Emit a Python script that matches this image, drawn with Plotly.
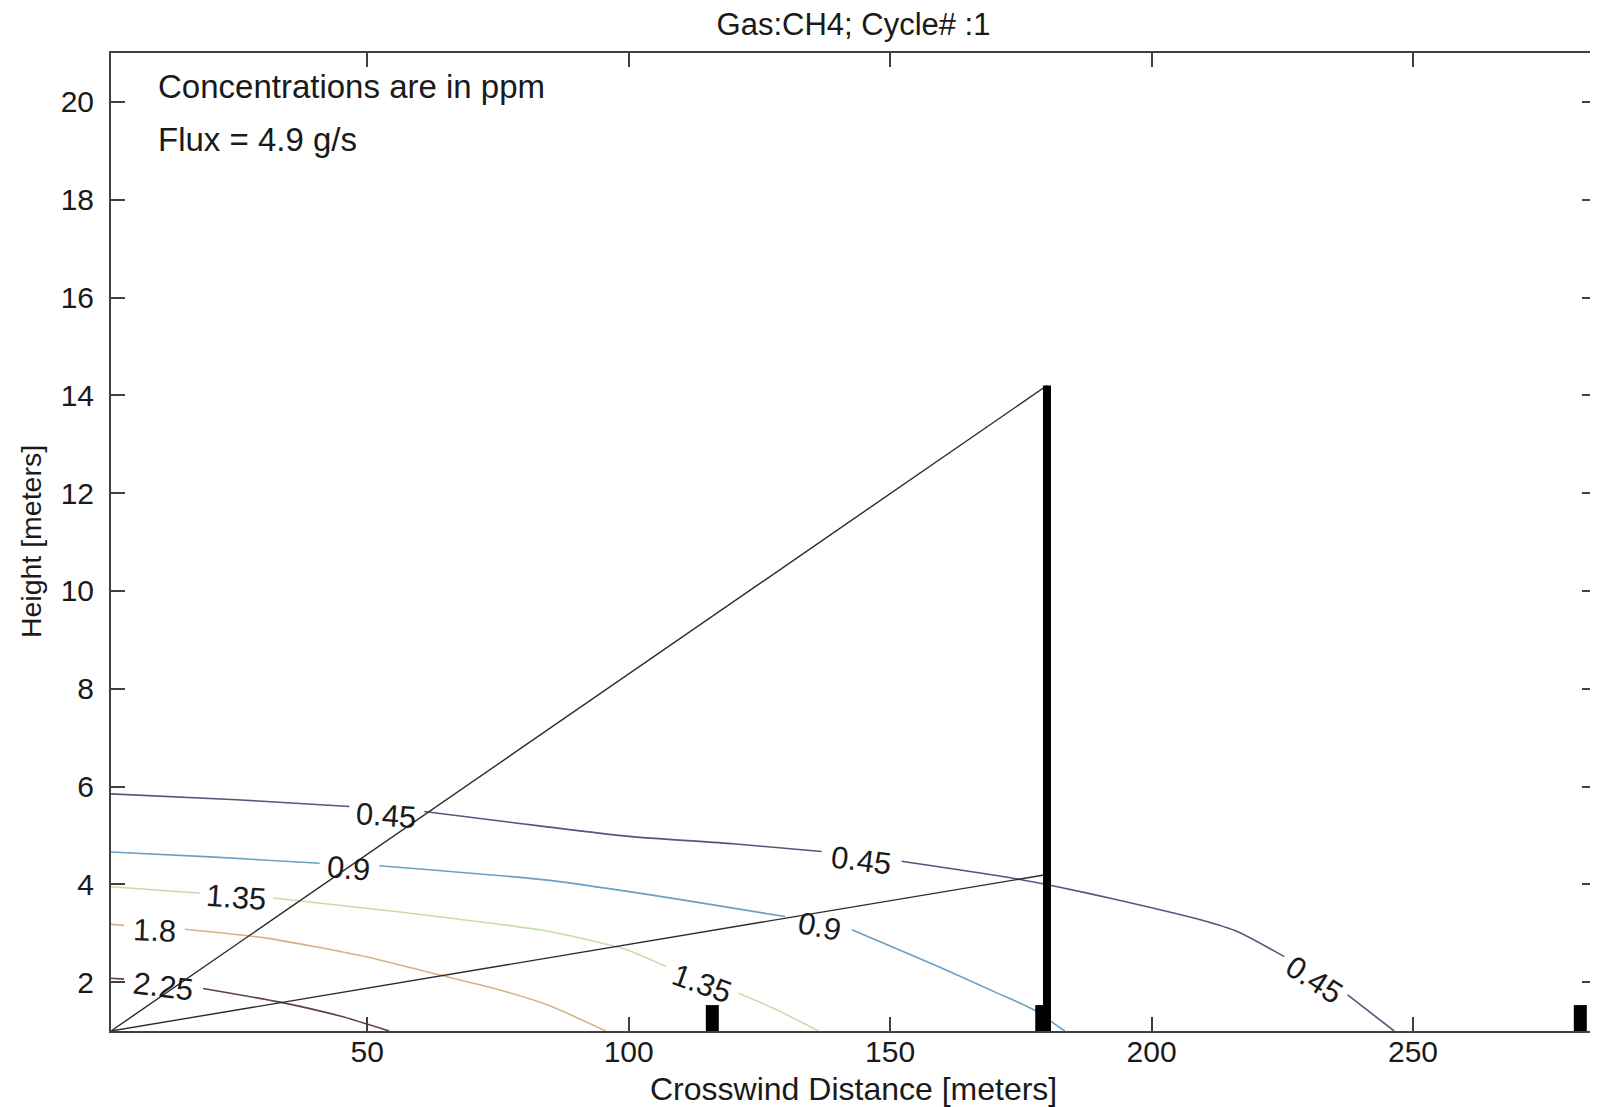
import plotly.graph_objects as go

# ---------------- data ----------------
x_tick_vals = [50, 100, 150, 200, 250]
y_tick_vals = [2, 4, 6, 8, 10, 12, 14, 16, 18, 20]

x_range = [1, 285]
y_range = [1, 21]

title_text = "Gas:CH4; Cycle# :1"
x_title = "Crosswind Distance [meters]"
y_title = "Height [meters]"
note_lines = ["Concentrations are in ppm", "Flux = 4.9 g/s"]

# contour lines (None = gap where the label sits)
c045_x = [1, 25, 46.6, None, 60.9, 84, 100, 120, 136.9, None, 152.2, 173.2, 182, 193.6, 209.5, 216.5, 225.4, None, 237.5, 246.4]
c045_y = [5.85, 5.73, 5.59, None, 5.49, 5.18, 4.98, 4.83, 4.67, None, 4.47, 4.13, 3.95, 3.68, 3.27, 3.03, 2.52, None, 1.74, 1.0]

c090_x = [1, 20, 40.9, None, 52.3, 84, 102, 115, 129.9, None, 142.7, 159.2, 170, 177, 183.4]
c090_y = [4.66, 4.56, 4.43, None, 4.38, 4.09, 3.82, 3.60, 3.34, None, 3.07, 2.32, 1.80, 1.46, 1.0]

c135_x = [1, 18, None, 32, 55, 84, 98.8, 107.1, None, 121, 128, 136.3]
c135_y = [3.95, 3.82, None, 3.72, 3.45, 3.05, 2.69, 2.32, None, 1.77, 1.45, 1.0]

c180_x = [1, 3.5, None, 15.1, 30.7, 49.8, 62.5, 75, 84.8, 95.6]
c180_y = [3.18, 3.16, None, 3.08, 2.90, 2.52, 2.18, 1.85, 1.52, 1.0]

c225_x = [1, 3.5, None, 18.6, 33.3, 45, 54.2]
c225_y = [2.08, 2.06, None, 1.87, 1.59, 1.30, 1.0]

contour_levels = ["0.45", "0.9", "1.35", "1.8", "2.25"]
contour_xs = [c045_x, c090_x, c135_x, c180_x, c225_x]
contour_ys = [c045_y, c090_y, c135_y, c180_y, c225_y]

# contour labels
label_text = ["0.45", "0.45", "0.45", "0.9", "0.9", "1.35", "1.35", "1.8", "2.25"]
label_x = [53.5, 144.5, 231.0, 46.5, 136.5, 25.0, 114.0, 9.3, 11.0]
label_y = [5.40, 4.48, 2.05, 4.33, 3.13, 3.72, 1.98, 3.05, 1.90]

# sight lines from the source corner to the tall tower
source_x = 1
source_y = 1
tower_top_x = 180
beam_end_y = [14.2, 4.2]

# short instrument posts and the tall tower
post_x = [116, 179, 282]
post_top = [1.53, 1.53, 1.53]
tower_x = 180
tower_top = 14.2

# ---------------- styles ----------------
FONT = "Liberation Sans, Arial, Helvetica, sans-serif"
FS_NOTE = 33
FS_TICK = 30
FS_LABEL = 31
FS_TITLE = 31
FS_XT = 32
FS_V = 28.5
TXT = "#1a1a1a"
contour_colors = ["#55557f", "#6a9fc6", "#c4dfae", "#d9b183", "#5e3f52"]
label_angles = [4, 7, 33, 5, 11, 4, 20, 2, 7]
AXC = "#404040"

# the page body adds an 8px offset, so the figure is laid out from there
OFF = 8
W, H = 1598 - OFF, 1107 - OFF
ML, MT, MB = 111 - OFF, 53 - OFF, 76

fig = go.Figure()

for xs, ys, col, lev in zip(contour_xs, contour_ys, contour_colors, contour_levels):
    fig.add_trace(go.Scatter(x=xs, y=ys, mode="lines", name=lev,
                             line=dict(color=col, width=1.6, shape="spline", smoothing=0.6),
                             connectgaps=False, showlegend=False, hoverinfo="skip"))

for ye in beam_end_y:
    fig.add_trace(go.Scatter(x=[source_x, tower_top_x], y=[source_y, ye], mode="lines",
                             line=dict(color="#2a2a2a", width=1.4),
                             showlegend=False, hoverinfo="skip"))

fig.add_trace(go.Scatter(x=[tower_x, tower_x], y=[y_range[0], tower_top], mode="lines",
                         line=dict(color="black", width=8),
                         showlegend=False, hoverinfo="skip"))

for px, pt in zip(post_x, post_top):
    fig.add_trace(go.Scatter(x=[px, px], y=[y_range[0], pt], mode="lines",
                             line=dict(color="black", width=13),
                             showlegend=False, hoverinfo="skip"))

annotations = []
for t, lx, ly, ang in zip(label_text, label_x, label_y, label_angles):
    annotations.append(dict(x=lx, y=ly, xref="x", yref="y", text=t, showarrow=False,
                            textangle=ang, font=dict(family=FONT, size=FS_LABEL, color=TXT),
                            xanchor="center", yanchor="middle"))

annotations.append(dict(x=9.6, y=20.32, xref="x", yref="y", text=note_lines[0], showarrow=False,
                        xanchor="left", yanchor="middle",
                        font=dict(family=FONT, size=FS_NOTE, color=TXT)))
annotations.append(dict(x=9.6, y=19.24, xref="x", yref="y", text=note_lines[1], showarrow=False,
                        xanchor="left", yanchor="middle",
                        font=dict(family=FONT, size=FS_NOTE, color=TXT)))

plot_h = H - MT - MB
plot_w = W - ML
annotations.append(dict(x=0.5, y=-(1089 - OFF - (MT + plot_h)) / plot_h, xref="paper", yref="paper",
                        text=x_title, showarrow=False, xanchor="center", yanchor="middle",
                        font=dict(family=FONT, size=FS_XT, color=TXT)))
annotations.append(dict(x=-(ML - (31 - OFF)) / plot_w, y=0.5, xref="paper", yref="paper",
                        text=y_title, showarrow=False, textangle=-90,
                        xanchor="center", yanchor="middle",
                        font=dict(family=FONT, size=FS_V, color=TXT)))

fig.update_layout(
    width=W, height=H,
    margin=dict(l=ML, r=0, t=MT, b=MB, pad=0),
    paper_bgcolor="white", plot_bgcolor="white",
    title=dict(text=title_text, x=0.5, xref="paper", y=1 - (24 - OFF) / H, yref="container",
               xanchor="center", yanchor="middle",
               font=dict(family=FONT, size=FS_TITLE, color=TXT)),
    annotations=annotations,
    showlegend=False,
)

fig.update_xaxes(range=x_range, tickvals=x_tick_vals, ticktext=[str(v) for v in x_tick_vals],
                 showgrid=False, zeroline=False, showline=True, linecolor=AXC, linewidth=2,
                 mirror="ticks", ticks="inside", ticklen=14, tickwidth=1.5, tickcolor=AXC,
                 ticklabelstandoff=-7,
                 tickfont=dict(family=FONT, size=FS_TICK, color=TXT))
fig.update_yaxes(range=y_range, tickvals=y_tick_vals, ticktext=[str(v) for v in y_tick_vals],
                 showgrid=False, zeroline=False, showline=True, linecolor=AXC, linewidth=2,
                 mirror="ticks", ticks="inside", ticklen=14, tickwidth=1.5, tickcolor=AXC,
                 ticklabelstandoff=9,
                 tickfont=dict(family=FONT, size=FS_TICK, color=TXT))

fig.write_html("out.html")
